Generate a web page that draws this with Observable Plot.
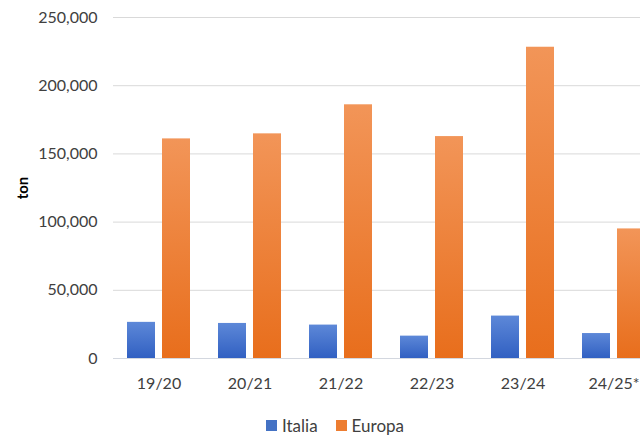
<!DOCTYPE html>
<html>
<head>
<meta charset="utf-8">
<script src="https://cdn.jsdelivr.net/npm/d3@7"></script>
<script src="https://cdn.jsdelivr.net/npm/@observablehq/plot@0.6"></script>
<style>
  html, body { margin: 0; padding: 0; background: #fff; overflow: hidden; }
  #chart { width: 640px; height: 435px; position: relative; font-family: Lato, "Open Sans", sans-serif; }
  .legend { height: 35px; box-sizing: border-box; padding-top: 15px; padding-left: 266px; display: flex; align-items: center; font-size: 17px; color: #404040; }
  .legend .sw { width: 11px; height: 11px; margin-right: 5px; }
  .legend .item { display: flex; align-items: center; margin-right: 18px; }
</style>
</head>
<body>
<div id="chart"></div>
<script>
const categories = ["19/20", "20/21", "21/22", "22/23", "23/24", "24/25*"];
const italia = [26500, 25700, 24500, 16400, 31100, 18300];
const europa = [161000, 164700, 186000, 162700, 228200, 95000];
const seriesNames = ["Italia", "Europa"];
const yTicks = [0, 50000, 100000, 150000, 200000, 250000];
const yLabel = "ton";

const gradients = {
  Italia: {id: "gradItalia", top: "#5d88d8", bottom: "#3160c2", swatch: "#4472c4"},
  Europa: {id: "gradEuropa", top: "#f29558", bottom: "#e86e1c", swatch: "#ed7d31"}
};

const table = categories.map((c, i) => ({category: c, Italia: italia[i], Europa: europa[i]}));

const plot = Plot.plot({
  width: 640,
  height: 400,
  marginLeft: 113,
  marginRight: 0,
  marginTop: 17,
  marginBottom: 42,
  style: {fontFamily: "Lato, 'Open Sans', sans-serif", fontSize: "16px", color: "#404040", background: "#fff"},
  x: {type: "band", domain: categories, range: [113, 659], paddingInner: 0.308, paddingOuter: 0.154, align: 0.5, label: null},
  y: {domain: [0, 250000], label: null},
  marks: [
    Plot.ruleY(yTicks.filter(d => d > 0), {stroke: "#d9d9d9", strokeWidth: 1}),
    Plot.ruleY([0], {stroke: "#d3d7df", strokeWidth: 1}),
    Plot.barY(table, {x: "category", y: "Italia", fill: `url(#${gradients.Italia.id})`, insetRight: 35}),
    Plot.barY(table, {x: "category", y: "Europa", fill: `url(#${gradients.Europa.id})`, insetLeft: 35}),
    Plot.axisY({ticks: yTicks, tickSize: 0, tickPadding: 16, tickFormat: d3.format(","), label: null, fill: "#404040"}),
    Plot.axisX({tickSize: 0, tickPadding: 19, label: null, fill: "#404040"}),
    Plot.text([yLabel], {text: d => d, frameAnchor: "left", textAnchor: "middle", rotate: -90, dx: -90, fontWeight: "bold", fontSize: 15, fill: "#000"})
  ]
});

// gradient definitions
const ns = "http://www.w3.org/2000/svg";
const defs = document.createElementNS(ns, "defs");
for (const name of seriesNames) {
  const g = gradients[name];
  const lg = document.createElementNS(ns, "linearGradient");
  lg.setAttribute("id", g.id);
  lg.setAttribute("x1", "0"); lg.setAttribute("y1", "0");
  lg.setAttribute("x2", "0"); lg.setAttribute("y2", "1");
  [[0, g.top], [1, g.bottom]].forEach(([o, c]) => {
    const s = document.createElementNS(ns, "stop");
    s.setAttribute("offset", o);
    s.setAttribute("stop-color", c);
    lg.appendChild(s);
  });
  defs.appendChild(lg);
}
plot.insertBefore(defs, plot.firstChild);

const chart = document.getElementById("chart");
chart.appendChild(plot);

const legend = document.createElement("div");
legend.className = "legend";
for (const name of seriesNames) {
  const item = document.createElement("div");
  item.className = "item";
  const sw = document.createElement("div");
  sw.className = "sw";
  sw.style.background = gradients[name].swatch;
  const label = document.createElement("span");
  label.textContent = name;
  item.appendChild(sw);
  item.appendChild(label);
  legend.appendChild(item);
}
chart.appendChild(legend);
</script>
</body>
</html>
